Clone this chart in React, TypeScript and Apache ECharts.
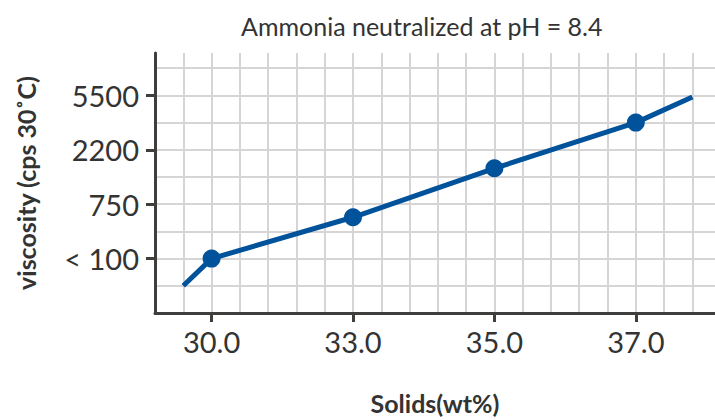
import React, { useEffect, useRef } from "react";
import * as echarts from "echarts";

const xCategories = ["30.0", "33.0", "35.0", "37.0"];
const yCategories = ["< 100", "750", "2200", "5500"];
// measured points: [x category index, y category index]
const measured: [number, number][] = [
  [0, 1],
  [1, 1.76],
  [2, 2.66],
  [3, 3.5],
];
// extrapolated line ends (no markers)
const lineStart: [number, number] = [-0.2, 0.5];
const lineEnd: [number, number] = [3.4, 3.97];

const titleText = "Ammonia neutralized at pH = 8.4";
const xName = "Solids(wt%)";
const yName = "viscosity (cps 30˚C)";

const FONT = "Lato, 'Open Sans', sans-serif";
const AXIS_COLOR = "#403d3d";
const TEXT_COLOR = "#333333";
const GRID_COLOR = "#d6d4d4";
const LINE_COLOR = "#00529b";

const X_MIN = -0.4;
const X_MAX = 3.56;
const Y_MIN = 0;
const Y_MAX = 4.78;

export default function App() {
  const ref = useRef<HTMLDivElement>(null);
  useEffect(() => {
    if (!ref.current) return;
    const chart = echarts.init(ref.current, null, { renderer: "svg" });
    const data: any[] = [
      { value: lineStart, symbol: "none" },
      ...measured.map((p) => ({ value: p })),
      { value: lineEnd, symbol: "none" },
    ];
    const gridAxisCommon = {
      type: "value",
      axisLine: { show: false },
      axisTick: { show: false },
      axisLabel: { show: false },
      splitLine: { show: true, showMinLine: false, showMaxLine: false, lineStyle: { color: GRID_COLOR, width: 2 } },
      z: 0,
    };
    chart.setOption({
      animation: false,
      backgroundColor: "#ffffff",
      textStyle: { fontFamily: FONT },
      title: {
        text: titleText,
        left: 236,
        top: 8,
        textStyle: { fontFamily: FONT, fontSize: 25, fontWeight: "normal", color: TEXT_COLOR },
      },
      grid: { left: 155, right: 0, top: 53, bottom: 103, containLabel: false },
      xAxis: [
        {
          type: "value",
          min: X_MIN,
          max: X_MAX,
          interval: 0.2,
          name: xName,
          nameLocation: "middle",
          nameGap: 77,
          nameTextStyle: { fontFamily: FONT, fontSize: 25, fontWeight: "bold", color: TEXT_COLOR },
          axisLine: { show: true, onZero: false, lineStyle: { color: AXIS_COLOR, width: 3 } },
          axisTick: {
            show: true,
            customValues: [0, 1, 2, 3],
            length: 9,
            lineStyle: { color: AXIS_COLOR, width: 3 },
          },
          axisLabel: {
            customValues: [0, 1, 2, 3],
            margin: 14,
            fontFamily: FONT,
            fontSize: 29,
            color: TEXT_COLOR,
            formatter: (v: number) => {
              const i = Math.round(v);
              return Math.abs(v - i) < 1e-6 && i >= 0 && i < xCategories.length ? xCategories[i] : "";
            },
          },
          splitLine: { show: false },
          z: 3,
        },
        { ...gridAxisCommon, min: X_MIN, max: X_MAX, interval: 0.2 },
      ],
      yAxis: [
        {
          type: "value",
          min: Y_MIN,
          max: Y_MAX,
          interval: 0.5,
          name: yName,
          nameLocation: "middle",
          nameRotate: 90,
          nameGap: 117,
          nameTextStyle: { fontFamily: FONT, fontSize: 25, fontWeight: "bold", color: TEXT_COLOR },
          axisLine: { show: true, onZero: false, lineStyle: { color: AXIS_COLOR, width: 3 } },
          axisTick: {
            show: true,
            customValues: [1, 2, 3, 4],
            length: 9,
            lineStyle: { color: AXIS_COLOR, width: 3 },
          },
          axisLabel: {
            customValues: [1, 2, 3, 4],
            margin: 16,
            fontFamily: FONT,
            fontSize: 29,
            color: TEXT_COLOR,
            formatter: (v: number) => {
              const i = Math.round(v) - 1;
              return Math.abs(v - i - 1) < 1e-6 && i >= 0 && i < yCategories.length ? yCategories[i] : "";
            },
          },
          splitLine: { show: false },
          z: 3,
        },
        { ...gridAxisCommon, min: Y_MIN, max: Y_MAX, interval: 0.5 },
      ],
      series: [
        {
          type: "line",
          xAxisIndex: 0,
          yAxisIndex: 0,
          data,
          symbol: "circle",
          symbolSize: 18,
          showAllSymbol: true,
          lineStyle: { color: LINE_COLOR, width: 5 },
          itemStyle: { color: LINE_COLOR },
          z: 5,
        },
      ],
    });
    return () => chart.dispose();
  }, []);
  return (
    <div
      ref={ref}
      style={{ position: "fixed", left: 0, top: 0, width: 715, height: 420, background: "#fff" }}
    />
  );
}
